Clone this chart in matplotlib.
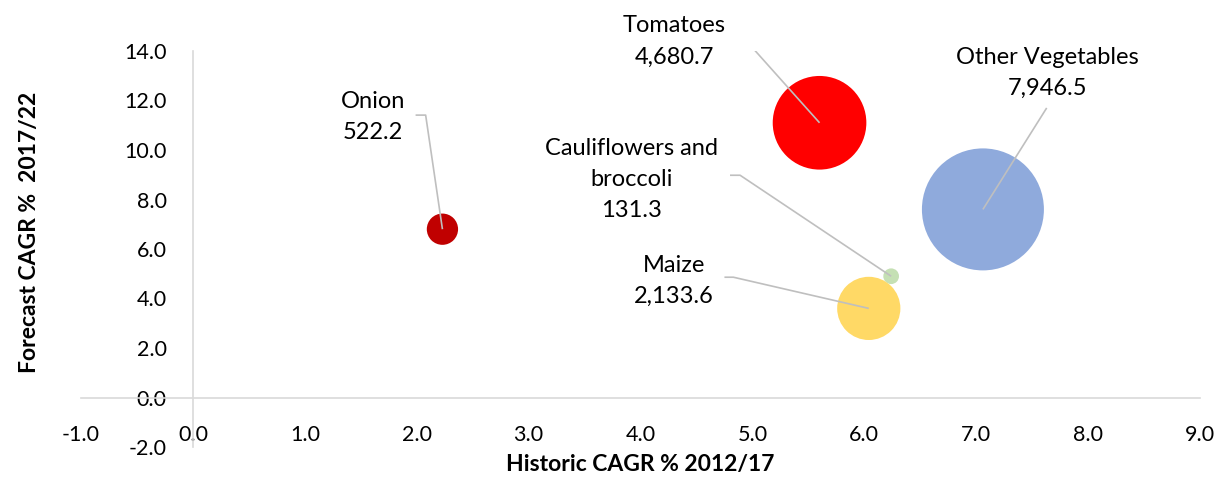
import matplotlib
matplotlib.use("Agg")
import matplotlib.pyplot as plt

# data
names = ["Onion", "Tomatoes", "Cauliflowers and\nbroccoli", "Maize", "Other Vegetables"]
historic = [2.23, 5.60, 6.24, 6.04, 7.06]
forecast = [6.8, 11.1, 4.9, 3.6, 7.6]
market = [522.2, 4680.7, 131.3, 2133.6, 7946.5]
colors = ["#C00000", "#FF0000", "#C5E0B4", "#FFD966", "#8FAADC"]

# label layout (data coords): text centre, leader start, stub length
label_xy = [(1.61, 11.33), (4.30, 14.39), (3.92, 8.82), (4.30, 4.71), (7.64, 13.11)]
leader_xy = [(1.99, 11.41), (4.84, 14.49), (4.80, 8.98), (4.75, 4.86), (7.63, 11.70)]
stub = [0.09, 0.09, 0.09, 0.08, 0.0]

plt.rcParams['font.family'] = ['Lato', 'DejaVu Sans']

fig = plt.figure(figsize=(12.2, 4.83), dpi=100)
ax = fig.add_axes([81/1220, 1-447/483, (1200-81)/1220, (447-51)/483])

ax.set_xlim(-1, 9)
ax.set_ylim(-2, 14)

scale = 0.971
ax.scatter(historic, forecast, s=[m*scale for m in market], c=colors,
           edgecolors='none', zorder=2)

for i in range(len(names)):
    lx, ly = leader_xy[i]
    ax.plot([lx, lx + stub[i], historic[i]], [ly, ly, forecast[i]],
            color='#BFBFBF', lw=1.2, zorder=3, solid_capstyle='butt')
    tx, ty = label_xy[i]
    ax.text(tx, ty, names[i] + "\n" + f"{market[i]:,.1f}", ha='center', va='center',
            fontsize=17, linespacing=1.6, color='#000000', zorder=4)

for s in ['top', 'right']:
    ax.spines[s].set_visible(False)
ax.spines['left'].set_position(('data', 0))
ax.spines['bottom'].set_position(('data', 0))
for s in ['left', 'bottom']:
    ax.spines[s].set_color('#D9D9D9')
    ax.spines[s].set_linewidth(1.2)

ax.set_xticks([-1, 0, 1, 2, 3, 4, 5, 6, 7, 8, 9])
ax.set_yticks([-2, 0, 2, 4, 6, 8, 10, 12, 14])
ax.xaxis.set_major_formatter(matplotlib.ticker.FormatStrFormatter('%.1f'))
ax.yaxis.set_major_formatter(matplotlib.ticker.FormatStrFormatter('%.1f'))
ax.tick_params(axis='x', length=0, pad=20, labelsize=15.5, colors='#000000')
ax.tick_params(axis='y', length=0, pad=19, labelsize=15.5, colors='#000000')
ax.patch.set_alpha(0)

fig.text(640/1220, 1-465/483, "Historic CAGR % 2012/17", ha='center', va='center',
         fontsize=16.5, fontweight='bold')
fig.text(30/1220, 1-232/483, "Forecast CAGR %  2017/22", ha='center', va='center',
         rotation=90, fontsize=16.5, fontweight='bold')

fig.savefig("out.png", dpi=100)
